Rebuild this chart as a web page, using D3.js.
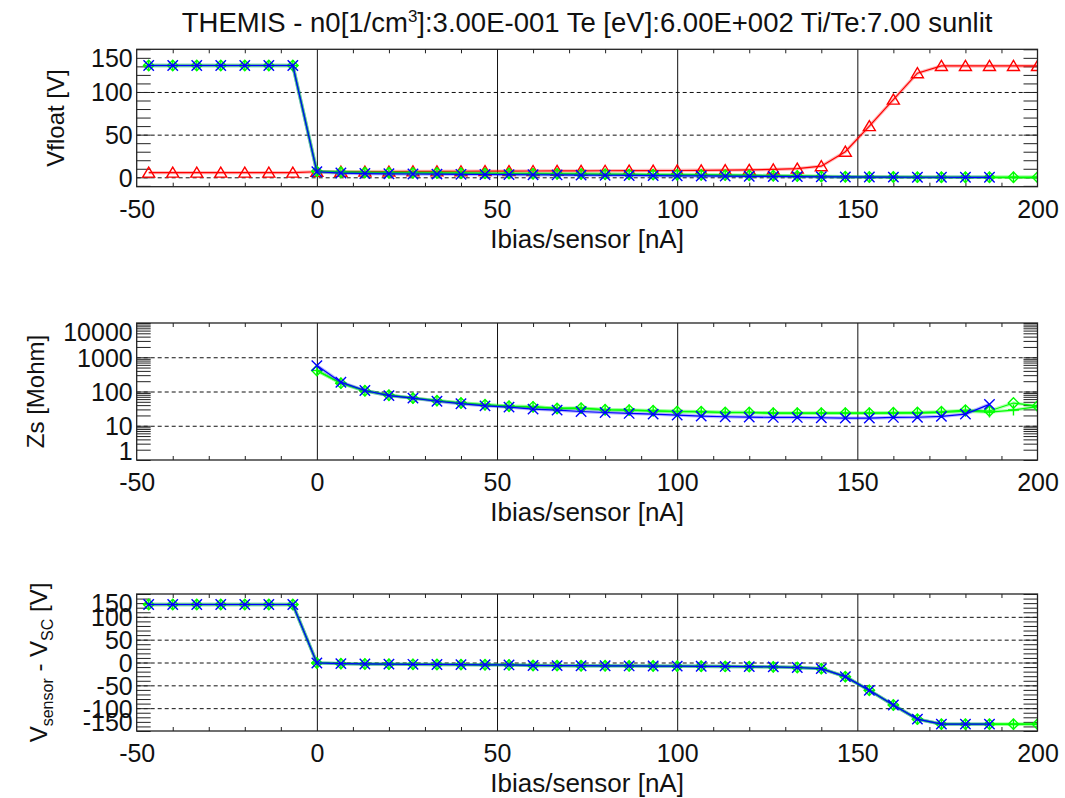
<!DOCTYPE html>
<html>
<head>
<meta charset="utf-8">
<script src="https://cdn.jsdelivr.net/npm/d3@7"></script>
<style>
  html, body { margin: 0; padding: 0; background: #ffffff; }
  svg { display: block; font-family: "Liberation Sans", Arial, Helvetica, sans-serif; }
</style>
</head>
<body>
<svg id="chart" width="1065" height="798"></svg>
<script>
// ---- data -------------------------------------------------------------
const ibias = [-46.67, -40, -33.33, -26.67, -20, -13.33, -6.67, 0, 6.67, 13.33, 20, 26.67, 33.33, 40,
  46.67, 53.33, 60, 66.67, 73.33, 80, 86.67, 93.33, 100, 106.67, 113.33, 120, 126.67, 133.33, 140,
  146.67, 153.33, 160, 166.67, 173.33, 180, 186.67, 193.33, 200];

// Vfloat [V]
const vfloatRed = [5.5, 5.5, 5.5, 5.5, 5.5, 5.5, 5.5, 6.5, 6.6, 6.7, 6.8, 6.9, 7.0, 7.1, 7.2, 7.3, 7.4,
  7.5, 7.6, 7.7, 7.8, 7.9, 8.0, 8.2, 8.4, 8.7, 9.2, 10.2, 13, 30, 60, 91, 122, 130.5, 130.5, 130.5, 130.5, 130.5];
const vfloatGreenDiamond = [131, 131, 131, 131, 131, 131, 131, 7.0, 6.0, 5.6, 5.4, 5.2, 5.0, 4.8, 4.6, 4.4,
  4.2, 4.0, 3.8, 3.6, 3.4, 3.2, 3.0, 2.8, 2.5, 2.2, 1.9, 1.5, 1.0, 0.6, 0.4, 0.3, 0.2, 0.1, 0.1, 0, 0, 0];
const vfloatGreenPlus = [131, 131, 131, 131, 131, 131, 131, 7.0, 6.0, 5.6, 5.4, 5.2, 5.0, 4.8, 4.6, 4.4,
  4.2, 4.0, 3.8, 3.6, 3.4, 3.2, 3.0, 2.8, 2.5, 2.2, 1.9, 1.5, 1.0, 0.6, 0.4, 0.3, 0.2, 0.1, 0.1, 0, 0, 0];
const vfloatBlue = [131, 131, 131, 131, 131, 131, 131, 6.5, 5.0, 4.4, 4.1, 3.9, 3.7, 3.5, 3.3, 3.2, 3.0,
  2.8, 2.6, 2.4, 2.2, 2.0, 1.8, 1.6, 1.4, 1.2, 1.0, 0.8, 0.6, 0.4, 0.3, 0.2, 0.1, 0.1, 0, 0, null, null];

// Zs [Mohm]
const zsGreenDiamond = [null, null, null, null, null, null, null, 409, 175, 105, 78, 64, 54, 46, 41, 37,
  35.7, 32, 32.7, 29.3, 28.6, 27.3, 26.1, 25.6, 24.4, 24.4, 23.4, 23.4, 23.4, 23.4, 23.4, 23.9, 24.4,
  25.6, 28.6, 27, 46, 38];
const zsGreenPlus = [null, null, null, null, null, null, null, 409, 175, 105, 78, 64, 54, 46, 41, 37,
  35.7, 32, 32.7, 29.3, 28.6, 27.3, 26.1, 25.6, 24.4, 24.4, 23.4, 23.4, 23.4, 23.4, 23.4, 23.4, 23.4,
  24.5, 26.5, 25, 28.7, 36];
const zsBlue = [null, null, null, null, null, null, null, 571, 187, 107, 76, 64, 52, 44, 38, 35, 30.5,
  28.6, 26.1, 24.4, 22.9, 21.9, 20.5, 19.1, 18.3, 17.9, 17.5, 17.5, 17.1, 16.7, 16.7, 17.5, 17.7, 18.8,
  21.9, 42, null, null];

// Vsensor - Vsc [V]
const vdiffGreenDiamond = [127, 127, 127, 127, 127, 127, 127, -1, -2.5, -3.2, -3.6, -4, -4.3, -4.6, -5,
  -5.3, -6.5, -6.8, -7, -7.2, -7.5, -7.8, -8, -8.3, -8.6, -9, -9.6, -11, -13.5, -31, -61, -93, -124,
  -135, -135, -135, -135, -135];
const vdiffGreenPlus = [127, 127, 127, 127, 127, 127, 127, -1, -2.5, -3.2, -3.6, -4, -4.3, -4.6, -5,
  -5.3, -6.5, -6.8, -7, -7.2, -7.5, -7.8, -8, -8.3, -8.6, -9, -9.6, -11, -13.5, -31, -61, -93, -124,
  -135, -135, -135, -135, -135];
const vdiffBlue = [127, 127, 127, 127, 127, 127, 127, -1, -2.5, -3.2, -3.6, -4, -4.3, -4.6, -5,
  -5.3, -6.5, -6.8, -7, -7.2, -7.5, -7.8, -8, -8.3, -8.6, -9, -9.6, -11, -13.5, -31, -61, -93, -124,
  -135, -135, -135, null, null];

// axes
const xTicks = [-50, 0, 50, 100, 150, 200];
const xMinorTicks = [-40, -30, -20, -10, 10, 20, 30, 40, 60, 70, 80, 90, 110, 120, 130, 140, 160, 170, 180, 190];
const xGridTicks = [0, 50, 100, 150];
const vfloatTicks = [0, 50, 100, 150];
const vfloatMinor = [-10, 0, 10, 20, 30, 40, 50, 60, 70, 80, 90, 100, 110, 120, 130, 140, 150];
const zsTicks = [1, 10, 100, 1000, 10000];
const vdiffTicks = [-150, -100, -50, 0, 50, 100, 150];
const vdiffMinor = [-150, -140, -130, -120, -110, -100, -90, -80, -70, -60, -50, -40, -30, -20, -10, 0,
  10, 20, 30, 40, 50, 60, 70, 80, 90, 100, 110, 120, 130, 140, 150];

const titleText = ['THEMIS - n0[1/cm', '3', ']:3.00E-001 Te [eV]:6.00E+002 Ti/Te:7.00 sunlit'];
const xTitle = 'Ibias/sensor [nA]';

// ---- layout -------------------------------------------------------------
const svg = d3.select('#chart');
const L = 136.7, R = 1037.5;
const x = d3.scaleLinear().domain([-50, 200]).range([L, R]);

const RED = '#ff0000', GREEN = '#00ff00', BLUE = '#0000ff';

// log-axis minor ticks (2..9 in every decade)
const zsMinor = [];
[1, 10, 100, 1000].forEach(d => { for (let k = 1; k <= 9; k++) zsMinor.push(k * d); });
zsMinor.push(10000);

const panels = [
  {
    top: 49.3, bottom: 186.7,
    y: d3.scaleLinear().domain([-11, 150]),
    ticks: vfloatTicks, minor: vfloatMinor, grid: [0, 50, 100],
    series: [
      { v: vfloatRed, c: RED, m: 'triangle' },
      { v: vfloatGreenDiamond, c: GREEN, m: 'diamond' },
      { v: vfloatGreenPlus, c: GREEN, m: 'plus' },
      { v: vfloatBlue, c: BLUE, m: 'x' }
    ],
    ytitle: [{ t: 'Vfloat [V]' }], ytitleX: 64
  },
  {
    top: 323, bottom: 460,
    y: d3.scaleLog().domain([1, 10000]),
    ticks: zsTicks, minor: zsMinor, grid: [10, 100, 1000],
    series: [
      { v: zsGreenDiamond, c: GREEN, m: 'diamond' },
      { v: zsGreenPlus, c: GREEN, m: 'plus' },
      { v: zsBlue, c: BLUE, m: 'x' }
    ],
    ytitle: [{ t: 'Zs [Mohm]' }], ytitleX: 44
  },
  {
    top: 594, bottom: 731,
    y: d3.scaleLinear().domain([-150, 150]),
    ticks: vdiffTicks, minor: vdiffMinor, grid: [-100, -50, 0, 50, 100],
    series: [
      { v: vdiffGreenDiamond, c: GREEN, m: 'diamond' },
      { v: vdiffGreenPlus, c: GREEN, m: 'plus' },
      { v: vdiffBlue, c: BLUE, m: 'x' }
    ],
    ytitle: [{ t: 'V' }, { t: 'sensor', sub: true }, { t: ' - V' }, { t: 'SC', sub: true }, { t: ' [V]' }],
    ytitleX: 47
  }
];

const markerPath = {
  triangle: 'M0,-5.5L6,4.5L-6,4.5Z',
  diamond: 'M0,-5.2L5.2,0L0,5.2L-5.2,0Z',
  plus: 'M-5.5,0L5.5,0M0,-5.5L0,5.5',
  x: 'M-5.2,-5.2L5.2,5.2M-5.2,5.2L5.2,-5.2'
};

// title
const title = svg.append('text')
  .attr('x', (L + R) / 2).attr('y', 32)
  .attr('text-anchor', 'middle')
  .attr('font-size', 27.5).attr('fill', '#111');
title.append('tspan').text(titleText[0]);
title.append('tspan').attr('font-size', 17).attr('dy', -10).text(titleText[1]);
title.append('tspan').attr('dy', 10).text(titleText[2]);

const numFmt = d => String(d);

panels.forEach((p, pi) => {
  const y = p.y.range([p.bottom, p.top]);
  const h = p.bottom - p.top;
  const g = svg.append('g');

  // clip region for the data
  const clipId = 'clip' + pi;
  svg.append('clipPath').attr('id', clipId)
    .append('rect').attr('x', L).attr('y', p.top).attr('width', R - L).attr('height', h);

  // vertical lines at the major x ticks
  g.append('g').attr('transform', `translate(0,${p.bottom})`)
    .call(d3.axisBottom(x).tickValues(xGridTicks).tickSize(-h).tickFormat(''))
    .call(s => s.select('.domain').remove())
    .call(s => s.selectAll('line').attr('stroke', '#111').attr('stroke-width', 1));

  // dashed horizontal grid
  g.append('g').attr('transform', `translate(${L},0)`)
    .call(d3.axisLeft(y).tickValues(p.grid).tickSize(-(R - L)).tickFormat(''))
    .call(s => s.select('.domain').remove())
    .call(s => s.selectAll('line').attr('stroke', '#111').attr('stroke-width', 1)
      .attr('stroke-dasharray', '4,3'));

  // minor ticks, x (top and bottom)
  g.append('g').attr('transform', `translate(0,${p.bottom})`)
    .call(d3.axisBottom(x).tickValues(xMinorTicks).tickSize(-4).tickFormat(''))
    .call(s => s.select('.domain').remove())
    .call(s => s.selectAll('line').attr('stroke', '#222'));
  g.append('g').attr('transform', `translate(0,${p.top})`)
    .call(d3.axisTop(x).tickValues(xMinorTicks).tickSize(-4).tickFormat(''))
    .call(s => s.select('.domain').remove())
    .call(s => s.selectAll('line').attr('stroke', '#222'));

  // minor ticks, y (left and right)
  g.append('g').attr('transform', `translate(${L},0)`)
    .call(d3.axisLeft(y).tickValues(p.minor).tickSize(-14).tickFormat(''))
    .call(s => s.select('.domain').remove())
    .call(s => s.selectAll('line').attr('stroke', '#222'));
  g.append('g').attr('transform', `translate(${R},0)`)
    .call(d3.axisRight(y).tickValues(p.minor).tickSize(-14).tickFormat(''))
    .call(s => s.select('.domain').remove())
    .call(s => s.selectAll('line').attr('stroke', '#222'));

  // data
  const dg = svg.append('g').attr('clip-path', `url(#${clipId})`);
  p.series.forEach(s => {
    const pts = ibias.map((xv, i) => ({ x: xv, v: s.v[i] })).filter(d => d.v !== null);
    const line = d3.line().x(d => x(d.x)).y(d => y(d.v));
    dg.append('path').attr('d', line(pts)).attr('fill', 'none')
      .attr('stroke', s.c).attr('stroke-width', 3.4).attr('stroke-opacity', 0.28);
    dg.append('path').attr('d', line(pts)).attr('fill', 'none')
      .attr('stroke', s.c).attr('stroke-width', 1.2);
    dg.selectAll(null).data(pts).enter().append('path')
      .attr('transform', d => `translate(${x(d.x)},${y(d.v)})`)
      .attr('d', markerPath[s.m])
      .attr('fill', 'none').attr('stroke', s.c).attr('stroke-width', 1.4);
  });

  // frame
  svg.append('rect').attr('x', L).attr('y', p.top).attr('width', R - L).attr('height', h)
    .attr('fill', 'none').attr('stroke', '#222').attr('stroke-width', 1.3);

  // y tick labels
  const yl = svg.append('g').attr('transform', `translate(${L - 4},0)`)
    .call(d3.axisLeft(y).tickValues(p.ticks).tickSize(0).tickPadding(0).tickFormat(numFmt))
    .call(s => s.select('.domain').remove());
  yl.selectAll('text').attr('font-size', 25).attr('fill', '#111').attr('font-family', null)
    .attr('dy', '0.36em')
    .attr('y', d => {
      const py = y(d);
      if (Math.abs(py - p.top) < 2) return 8;
      if (Math.abs(py - p.bottom) < 2) return -10;
      return 0;
    });

  // x tick labels
  const xl = svg.append('g').attr('transform', `translate(0,${p.bottom})`)
    .call(d3.axisBottom(x).tickValues(xTicks).tickSize(0).tickPadding(0).tickFormat(numFmt))
    .call(s => s.select('.domain').remove());
  xl.selectAll('text').attr('font-size', 25).attr('fill', '#111').attr('font-family', null)
    .attr('y', 31).attr('dy', null);

  // x title
  svg.append('text').attr('x', (L + R) / 2).attr('y', p.bottom + 61)
    .attr('text-anchor', 'middle').attr('font-size', 26).attr('fill', '#111').text(xTitle);

  // y title
  const yt = svg.append('text')
    .attr('transform', `translate(${p.ytitleX},${(p.top + p.bottom) / 2}) rotate(-90)`)
    .attr('text-anchor', 'middle').attr('font-size', 24).attr('fill', '#111');
  p.ytitle.forEach((part, i) => {
    const ts = yt.append('tspan').text(part.t);
    if (part.sub) ts.attr('font-size', 16).attr('dy', 6);
    else if (i > 0 && p.ytitle[i - 1].sub) ts.attr('dy', -6);
  });
});
</script>
</body>
</html>
